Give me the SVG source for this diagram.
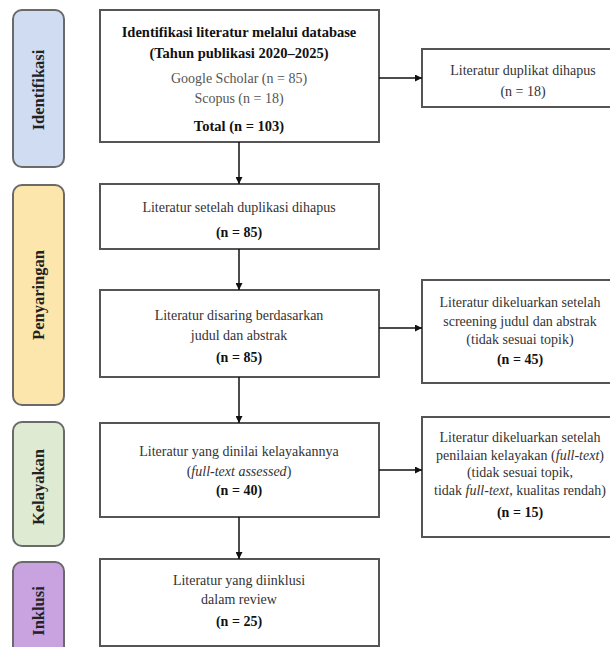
<svg xmlns="http://www.w3.org/2000/svg" width="610" height="647" viewBox="0 0 610 647">
<defs>
<marker id="ah" viewBox="0 0 10 10" refX="10" refY="5" markerWidth="7" markerHeight="7" orient="auto" markerUnits="userSpaceOnUse">
<path d="M0,0 L10,5 L0,10 z" fill="#111"/>
</marker>
<style>
.tab{stroke:#6a6a6a;stroke-width:2}
.box{fill:#fff;stroke:#555;stroke-width:2}
.t{font-family:"Liberation Serif","Times New Roman",serif;font-size:14px;fill:#333;text-anchor:middle}
.b{font-weight:bold;fill:#111}
.h{font-size:14.5px}
.tt{font-family:"Liberation Serif","Times New Roman",serif;font-size:16.5px;font-weight:bold;fill:#222;text-anchor:middle}
.i{font-style:italic}
.g{fill:#555}
.c{stroke:#111;stroke-width:1.5;fill:none;marker-end:url(#ah)}
</style>
</defs>
<rect width="610" height="647" fill="#fff"/>

<g id="tab-identifikasi">
<rect class="tab" x="13" y="10" width="51" height="157" rx="9" fill="#cfdcf2"/>
<text class="tt" transform="translate(44,90) rotate(-90)">Identifikasi</text>
</g>
<g id="tab-penyaringan">
<rect class="tab" x="13" y="185" width="51" height="220" rx="9" fill="#fde6ab"/>
<text class="tt" transform="translate(44,295) rotate(-90)">Penyaringan</text>
</g>
<g id="tab-kelayakan">
<rect class="tab" x="13" y="422" width="51" height="124" rx="9" fill="#dfead2"/>
<text class="tt" transform="translate(44,487) rotate(-90)">Kelayakan</text>
</g>
<g id="tab-inklusi">
<rect class="tab" x="13" y="562" width="51" height="100" rx="9" fill="#c9a3e0"/>
<text class="tt" transform="translate(44,611) rotate(-90)">Inklusi</text>
</g>

<g id="node-identifikasi">
<rect class="box" x="100" y="10" width="279" height="132"/>
<text class="t b h" x="239" y="37">Identifikasi literatur melalui database</text>
<text class="t b h" x="239" y="58">(Tahun publikasi 2020–2025)</text>
<text class="t g" x="239" y="83">Google Scholar (n = 85)</text>
<text class="t g" x="239" y="103">Scopus (n = 18)</text>
<text class="t b h" x="239" y="131">Total (n = 103)</text>
</g>
<g id="node-duplikat">
<rect class="box" x="422" y="49" width="202" height="58"/>
<text class="t" x="523" y="75">Literatur duplikat dihapus</text>
<text class="t" x="523" y="96">(n = 18)</text>
</g>
<g id="node-setelah-duplikasi">
<rect class="box" x="100" y="184" width="279" height="65"/>
<text class="t" x="239" y="212">Literatur setelah duplikasi dihapus</text>
<text class="t b" x="239" y="237">(n = 85)</text>
</g>
<g id="node-disaring">
<rect class="box" x="100" y="290" width="279" height="87"/>
<text class="t" x="239" y="320">Literatur disaring berdasarkan</text>
<text class="t" x="239" y="340">judul dan abstrak</text>
<text class="t b" x="239" y="362">(n = 85)</text>
</g>
<g id="node-dikeluarkan-screening">
<rect class="box" x="422" y="280" width="202" height="103"/>
<text class="t" x="520" y="307">Literatur dikeluarkan setelah</text>
<text class="t" x="520" y="326">screening judul dan abstrak</text>
<text class="t" x="520" y="344">(tidak sesuai topik)</text>
<text class="t b" x="520" y="364">(n = 45)</text>
</g>
<g id="node-kelayakan">
<rect class="box" x="100" y="423" width="279" height="94"/>
<text class="t" x="239" y="456">Literatur yang dinilai kelayakannya</text>
<text class="t" x="239" y="476">(<tspan class="i">full-text assessed</tspan>)</text>
<text class="t b" x="239" y="495">(n = 40)</text>
</g>
<g id="node-dikeluarkan-kelayakan">
<rect class="box" x="422" y="417" width="202" height="120"/>
<text class="t" x="520" y="442">Literatur dikeluarkan setelah</text>
<text class="t" x="520" y="460">penilaian kelayakan (<tspan class="i">full-text</tspan>)</text>
<text class="t" x="520" y="477">(tidak sesuai topik,</text>
<text class="t" x="520" y="495">tidak <tspan class="i">full-text</tspan>, kualitas rendah)</text>
<text class="t b" x="520" y="517">(n = 15)</text>
</g>
<g id="node-inklusi">
<rect class="box" x="100" y="559" width="279" height="87"/>
<text class="t" x="239" y="585">Literatur yang diinklusi</text>
<text class="t" x="239" y="604">dalam review</text>
<text class="t b" x="239" y="626">(n = 25)</text>
</g>

<g id="connectors">
<line class="c" x1="239" y1="142" x2="239" y2="184"/>
<line class="c" x1="239" y1="249" x2="239" y2="290"/>
<line class="c" x1="239" y1="377" x2="239" y2="423"/>
<line class="c" x1="239" y1="517" x2="239" y2="559"/>
<line class="c" x1="379" y1="78" x2="422" y2="78"/>
<line class="c" x1="379" y1="328" x2="422" y2="328"/>
<line class="c" x1="379" y1="470" x2="422" y2="470"/>
</g>
</svg>
